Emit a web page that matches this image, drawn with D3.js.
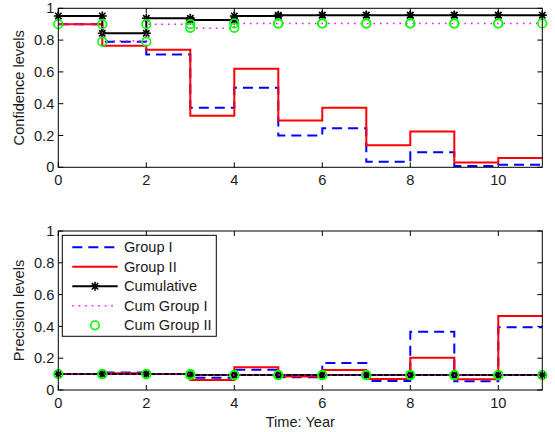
<!DOCTYPE html>
<html>
<head>
<meta charset="utf-8">
<script src="https://cdn.jsdelivr.net/npm/d3@7"></script>
<style>
  body { margin: 0; background: #fff; }
  svg { display: block; font-family: "Liberation Sans", Arial, sans-serif; }
</style>
</head>
<body>
<svg id="chart" width="555" height="432"></svg>
<script>
// step values for years 0..10 (each held until next year, last one until 11)
const xTicks = [0, 2, 4, 6, 8, 10];
const yTicks = [0, 0.2, 0.4, 0.6, 0.8, 1];
const seriesNames = ["Group I", "Group II", "Cumulative", "Cum Group I", "Cum Group II"];

const confGroupI = [0.90, 0.79, 0.71, 0.375, 0.50, 0.20, 0.245, 0.035, 0.095, 0.008, 0.016];
const confGroupII = [0.90, 0.765, 0.74, 0.325, 0.62, 0.295, 0.375, 0.138, 0.225, 0.03, 0.058];
const confCum = [0.952, 0.843, 0.937, 0.926, 0.952, 0.957, 0.957, 0.957, 0.957, 0.957, 0.957];
const confCumI = [0.90, 0.795, 0.90, 0.874, 0.904, 0.904, 0.904, 0.904, 0.904, 0.904, 0.904];
const confCumII = [0.90, 0.79, 0.90, 0.877, 0.905, 0.905, 0.905, 0.905, 0.905, 0.905, 0.905];

const precGroupI = [0.10, 0.11, 0.10, 0.077, 0.128, 0.08, 0.17, 0.057, 0.367, 0.055, 0.394];
const precGroupII = [0.10, 0.105, 0.10, 0.063, 0.143, 0.085, 0.126, 0.069, 0.203, 0.067, 0.465];
const precCum = [0.10, 0.10, 0.10, 0.094, 0.094, 0.094, 0.094, 0.094, 0.094, 0.094, 0.094];
const precCumI = [0.10, 0.10, 0.10, 0.094, 0.094, 0.094, 0.094, 0.094, 0.094, 0.094, 0.094];
const precCumII = [0.10, 0.10, 0.10, 0.094, 0.094, 0.094, 0.094, 0.094, 0.094, 0.094, 0.094];

const svg = d3.select("#chart");
const FONT = 14.6;

const x = d3.scaleLinear().domain([0, 11]).range([58.3, 542.3]);
const yTop = d3.scaleLinear().domain([0, 1]).range([167.3, 8.3]);
const yBot = d3.scaleLinear().domain([0, 1]).range([390, 231]);

const styles = [
    {color: "#0000ff", width: 2, dash: "10,6", marker: null},
    {color: "#ff0000", width: 2, dash: null, marker: null},
    {color: "#000000", width: 2, dash: null, marker: "star"},
    {color: "#ff00ff", width: 1.5, dash: "1.5,5", marker: null},
    {color: "#00ff00", width: 1.6, dash: null, marker: "circle", noLine: true}
];

function stepPoints(values) {
    const pts = [];
    values.forEach((v, i) => {
        pts.push([i, v]);
        pts.push([i + 1, v]);
    });
    return pts;
}

function starPath(s) {
    const d = s * 0.7071;
    return `M${-s},0L${s},0M0,${-s}L0,${s}M${-d},${-d}L${d},${d}M${-d},${d}L${d},${-d}`;
}

function drawMarker(g, style, cx, cy) {
    if (style.marker === "star") {
        g.append("path").attr("d", starPath(4.5))
            .attr("transform", `translate(${cx},${cy})`)
            .attr("stroke", style.color).attr("stroke-width", 1.6).attr("fill", "none");
    } else if (style.marker === "circle") {
        g.append("circle").attr("cx", cx).attr("cy", cy).attr("r", 4.3)
            .attr("stroke", style.color).attr("stroke-width", 1.6).attr("fill", "none");
    }
}

function drawPanel(y, seriesList, yLabel, xLabel) {
    const g = svg.append("g");
    const [x0, x1] = x.range();
    const [yb, yt] = y.range();

    g.append("rect").attr("x", x0).attr("y", yt).attr("width", x1 - x0).attr("height", yb - yt)
        .attr("fill", "#fff");

    // ticks inward on all sides
    const tickLen = 5;
    xTicks.forEach(t => {
        g.append("line").attr("x1", x(t)).attr("x2", x(t)).attr("y1", yb).attr("y2", yb - tickLen)
            .attr("stroke", "#000");
        g.append("line").attr("x1", x(t)).attr("x2", x(t)).attr("y1", yt).attr("y2", yt + tickLen)
            .attr("stroke", "#000");
        g.append("text").attr("x", x(t)).attr("y", yb + 18).attr("text-anchor", "middle")
            .attr("font-size", FONT).attr("fill", "#1a1a1a").text(t);
    });
    yTicks.forEach(t => {
        g.append("line").attr("x1", x0).attr("x2", x0 + tickLen).attr("y1", y(t)).attr("y2", y(t))
            .attr("stroke", "#000");
        g.append("line").attr("x1", x1).attr("x2", x1 - tickLen).attr("y1", y(t)).attr("y2", y(t))
            .attr("stroke", "#000");
        g.append("text").attr("x", x0 - 4).attr("y", y(t)).attr("dy", "0.35em")
            .attr("text-anchor", "end").attr("font-size", FONT).attr("fill", "#1a1a1a").text(t);
    });

    const line = d3.line().x(d => x(d[0])).y(d => y(d[1]));

    seriesList.forEach((vals, i) => {
        const st = styles[i];
        const pts = stepPoints(vals);
        if (!st.noLine) {
            g.append("path").datum(pts).attr("d", line)
                .attr("fill", "none").attr("stroke", st.color).attr("stroke-width", st.width)
                .attr("stroke-dasharray", st.dash);
        }
        if (st.marker) {
            pts.forEach(p => drawMarker(g, st, x(p[0]), y(p[1])));
        }
    });

    g.append("rect").attr("x", x0).attr("y", yt).attr("width", x1 - x0).attr("height", yb - yt)
        .attr("fill", "none").attr("stroke", "#000").attr("stroke-width", 1);

    g.append("text")
        .attr("transform", `translate(24,${(yb + yt) / 2}) rotate(-90)`)
        .attr("text-anchor", "middle").attr("font-size", FONT).attr("fill", "#1a1a1a")
        .text(yLabel);

    if (xLabel) {
        g.append("text").attr("x", (x0 + x1) / 2).attr("y", 426.5).attr("text-anchor", "middle")
            .attr("font-size", FONT).attr("fill", "#1a1a1a").text(xLabel);
    }
    return g;
}

drawPanel(yTop, [confGroupI, confGroupII, confCum, confCumI, confCumII], "Confidence levels");
drawPanel(yBot, [precGroupI, precGroupII, precCum, precCumI, precCumII], "Precision levels", "Time: Year");

// legend
const legend = svg.append("g");
legend.append("rect").attr("x", 62.3).attr("y", 235.3).attr("width", 154).attr("height", 101)
    .attr("fill", "#fff").attr("stroke", "#000").attr("stroke-width", 1);
seriesNames.forEach((name, i) => {
    const st = styles[i];
    const cy = 247.3 + i * 19.5;
    if (!st.noLine) {
        legend.append("line").attr("x1", 72.3).attr("x2", 117.7).attr("y1", cy).attr("y2", cy)
            .attr("stroke", st.color).attr("stroke-width", st.width)
            .attr("stroke-dasharray", st.dash);
    }
    if (st.marker) drawMarker(legend, st, 95, cy);
    legend.append("text").attr("x", 124).attr("y", cy).attr("dy", "0.35em")
        .attr("font-size", FONT).attr("fill", "#1a1a1a").text(name);
});
</script>
</body>
</html>
